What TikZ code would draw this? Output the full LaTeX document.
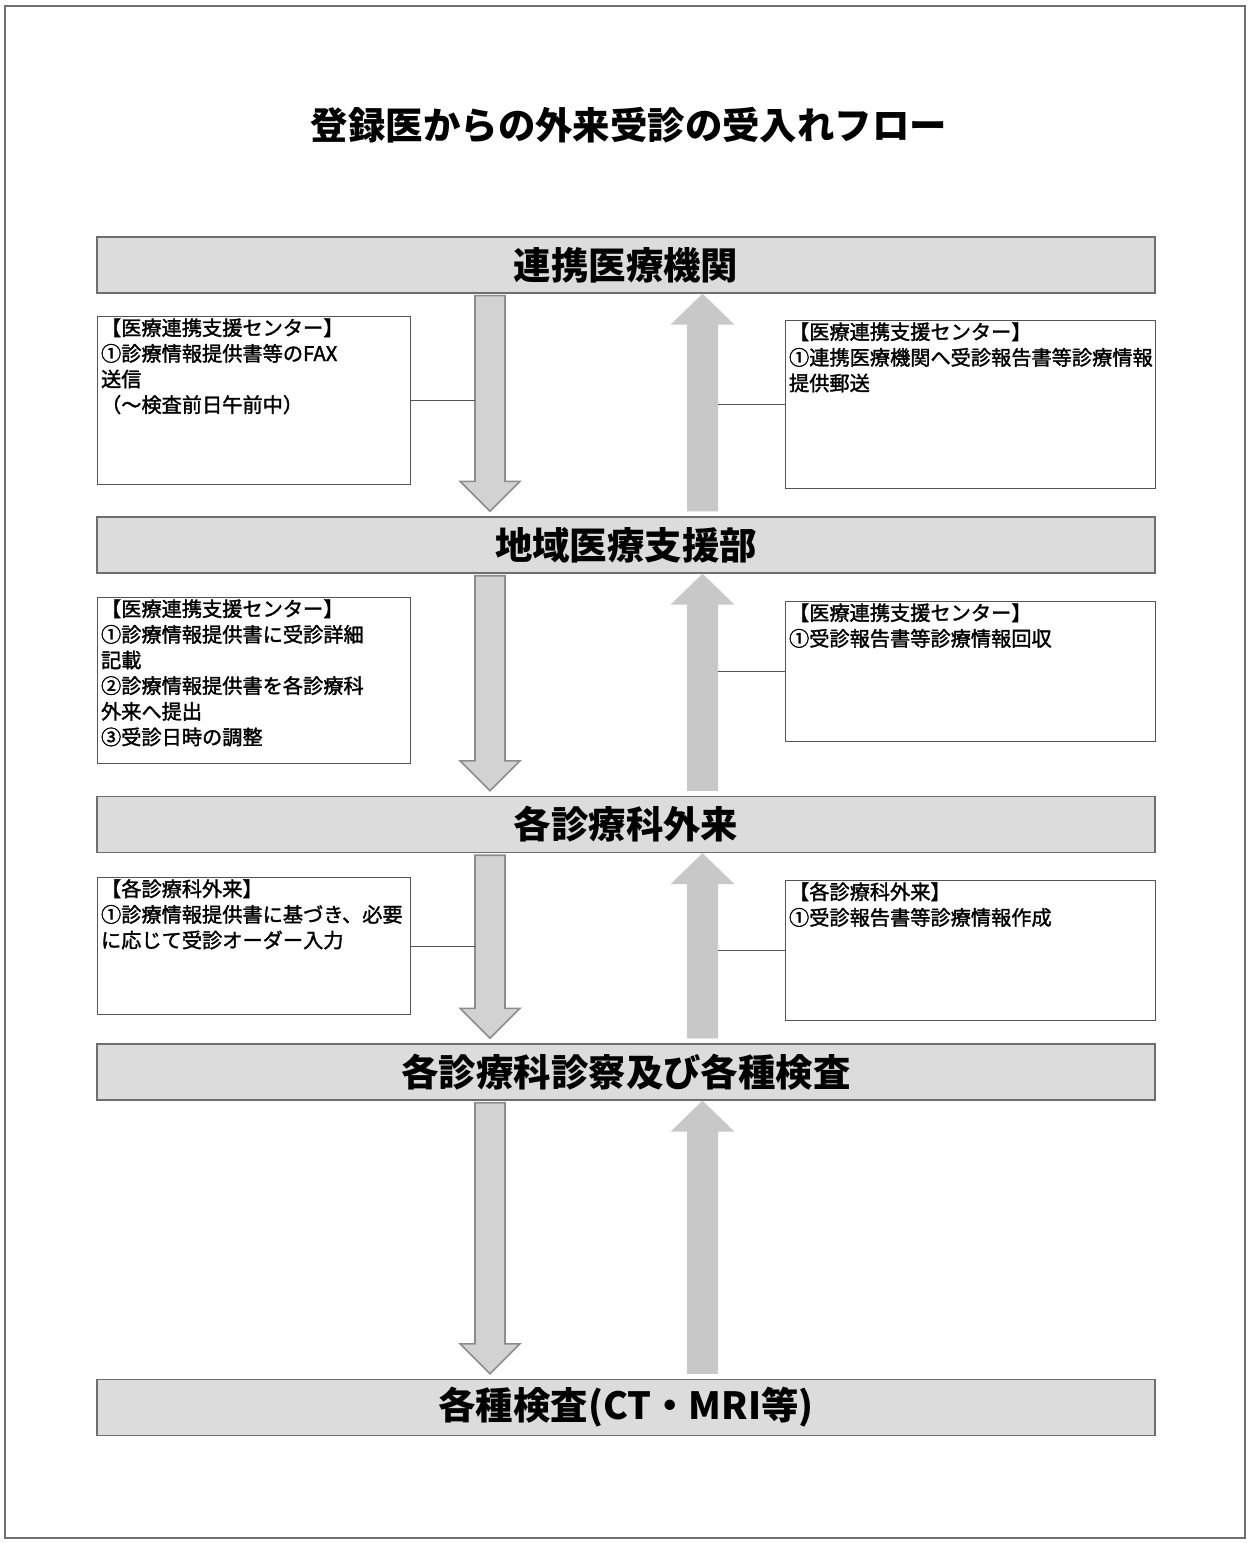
\documentclass[tikz,border=0pt]{standalone}
\usepackage{fontspec}
\setmainfont{Noto Sans CJK JP}
\newfontfamily\boxfont{Noto Sans CJK JP}[FakeBold=1.6]
\usetikzlibrary{calc}
\definecolor{bandfill}{HTML}{DCDCDC}
\definecolor{bandline}{HTML}{6E6E6E}
\definecolor{dnfill}{HTML}{D2D2D2}
\definecolor{dnline}{HTML}{8C8C8C}
\definecolor{upfill}{HTML}{C8C8C8}
\definecolor{boxline}{HTML}{555555}
\definecolor{framecol}{HTML}{707070}
\newcommand\boxtext[3]{\parbox[t][#2][t]{#1}{\boxfont\fontsize{11.5}{14.6}\selectfont\vspace*{1pt}\raggedright #3}}
\newcommand\flowdown[2]{%
  \draw[downarrow] let \p1=(#1.south -| dxc), \p2=(#2.north -| dxc) in
   (\x1-0.3cm,\y1-0.04cm) -- (\x1+0.3cm,\y1-0.04cm) -- (\x1+0.3cm,\y2+0.7cm) --
   (\x1+0.6cm,\y2+0.7cm) -- (\x1,\y2+0.1cm) -- (\x1-0.6cm,\y2+0.7cm) --
   (\x1-0.3cm,\y2+0.7cm) -- cycle;}
\newcommand\flowup[2]{%
  \fill[uparrow] let \p1=(#1.north -| uxc), \p2=(#2.south -| uxc) in
   (\x1-0.31cm,\y1+0.1cm) -- (\x1+0.31cm,\y1+0.1cm) -- (\x1+0.31cm,\y2-0.62cm) --
   (\x1+0.64cm,\y2-0.62cm) -- (\x1,\y2) -- (\x1-0.64cm,\y2-0.62cm) --
   (\x1-0.31cm,\y2-0.62cm) -- cycle;}
\tikzset{
  band/.style={draw=bandline, fill=bandfill, line width=0.8pt, minimum width=21.16cm,
    minimum height=1.12cm, inner sep=0pt, font=\bfseries\fontsize{21.3}{24}\selectfont},
  titletext/.style={font=\bfseries\fontsize{21.3}{24}\selectfont, inner sep=0pt},
  infobox/.style={draw=boxline, fill=white, line width=0.6pt, anchor=north west,
    inner xsep=2pt, inner ysep=0pt},
  downarrow/.style={draw=dnline, fill=dnfill, line width=0.9pt, line join=miter},
  uparrow/.style={fill=upfill},
  conn/.style={draw=boxline, line width=0.6pt}
}
\begin{document}
\begin{tikzpicture}[x=0.02cm,y=-0.02cm]
\useasboundingbox (0,0) rectangle (1250,1543);
\fill[white] (0,0) rectangle (1250,1543);
\draw[framecol, line width=1.1pt] (5,6) rectangle (1245,1538);

\node[titletext] (title) at (629,125) {登録医からの外来受診の受入れフロー};

\node[band] (b1) at (626,265) {連携医療機関};
\node[band] (b2) at (626,545) {地域医療支援部};
\node[band] (b3) at (626,824.5) {各診療科外来};
\node[band] (b4) at (626,1072) {各診療科診察及び各種検査};
\node[band] (b5) at (626,1407.5) {各種検査(CT・MRI等)};

\coordinate (dxc) at (490,0);
\coordinate (dxl) at (475,0);
\coordinate (uxc) at (702.5,0);
\coordinate (uxr) at (718,0);

\flowdown{b1}{b2}
\flowdown{b2}{b3}
\flowdown{b3}{b4}
\flowdown{b4}{b5}
\flowup{b2}{b1}
\flowup{b3}{b2}
\flowup{b4}{b3}
\flowup{b5}{b4}

\node[infobox] (l1) at (97,316) {\boxtext{6.12cm}{3.36cm}{【医療連携支援センター】\\①診療情報提供書等のFAX\\送信\\（～検査前日午前中）}};
\node[infobox] (r1) at (785,320) {\boxtext{7.26cm}{3.36cm}{【医療連携支援センター】\\①連携医療機関へ受診報告書等診療情報\\提供郵送}};
\node[infobox] (l2) at (97,597) {\boxtext{6.12cm}{3.32cm}{【医療連携支援センター】\\①診療情報提供書に受診詳細\\記載\\②診療情報提供書を各診療科\\外来へ提出\\③受診日時の調整}};
\node[infobox] (r2) at (785,601) {\boxtext{7.26cm}{2.8cm}{【医療連携支援センター】\\①受診報告書等診療情報回収}};
\node[infobox] (l3) at (97,877) {\boxtext{6.12cm}{2.74cm}{【各診療科外来】\\①診療情報提供書に基づき、必要\\に応じて受診オーダー入力}};
\node[infobox] (r3) at (785,880) {\boxtext{7.26cm}{2.8cm}{【各診療科外来】\\①受診報告書等診療情報作成}};

\draw[conn] (l1.east) -- (l1.east -| dxl);
\draw[conn] ($(l2.east)+(0,-13)$) -- ($(l2.east)+(0,-13)$ -| dxl);
\draw[conn] (l3.east) -- (l3.east -| dxl);
\draw[conn] (r1.west) -- (r1.west -| uxr);
\draw[conn] (r2.west) -- (r2.west -| uxr);
\draw[conn] (r3.west) -- (r3.west -| uxr);
\end{tikzpicture}
\end{document}
